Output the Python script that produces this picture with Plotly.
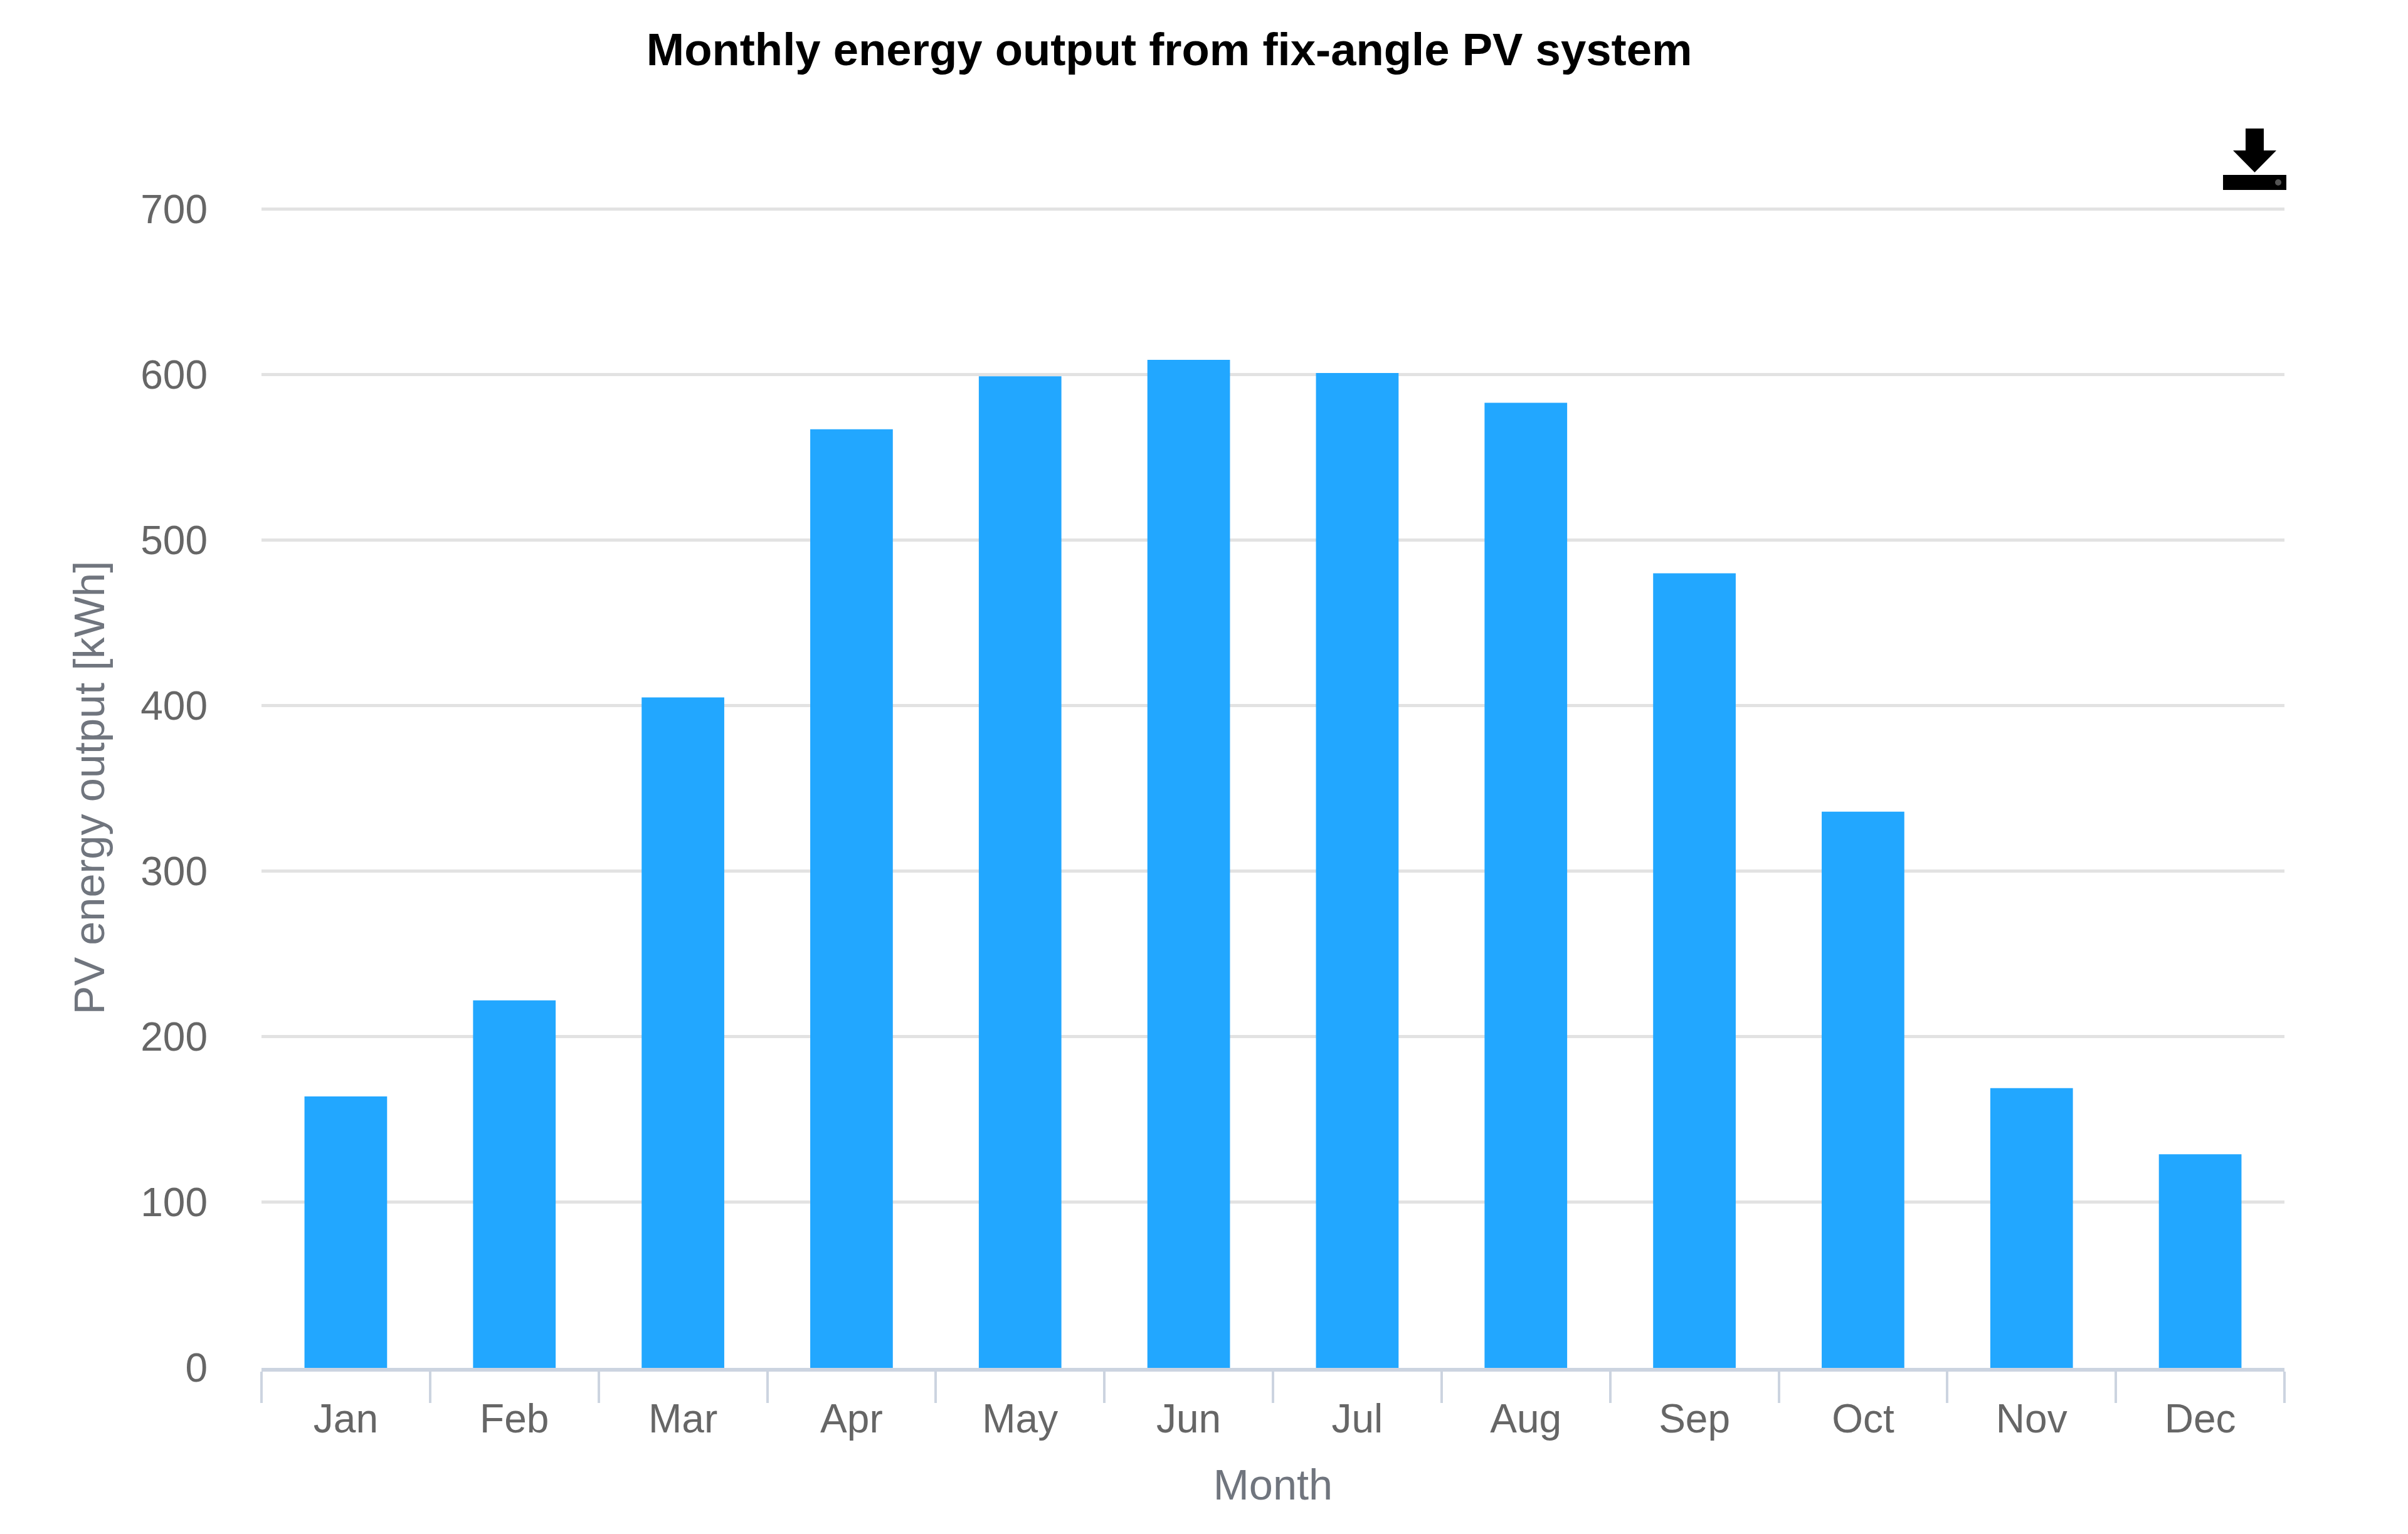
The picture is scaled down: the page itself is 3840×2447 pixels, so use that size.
import plotly.graph_objects as go

months = ["Jan","Feb","Mar","Apr","May","Jun","Jul","Aug","Sep","Oct","Nov","Dec"]
energy = [164, 222, 405, 567, 599, 609, 601, 583, 480, 336, 169, 129]
ticks = [0,100,200,300,400,500,600,700]

W, H = 3840, 2447
L, R, T, B = 408.5, 205, 323, 272.5

def px(x):
    return (x - 8 - L) / (W - L - R)
def py(y):
    return 1 - (y - 8 - T) / (H - T - B)

def poly(points):
    return "M " + " L ".join(f"{px(a):.5f},{py(b):.5f}" for a, b in points) + " Z"

arrow = [(3581,205),(3610,205),(3610,240),(3630,240),(3595.5,275),(3561,240),(3581,240)]
tray = [(3545,279),(3646,279),(3646,303),(3545,303)]

fig = go.Figure(go.Bar(x=months, y=energy, marker=dict(color="#22a7ff", line_width=0), width=0.49))
fig.update_layout(
    width=W, height=H, paper_bgcolor="white", plot_bgcolor="white", showlegend=False,
    margin=dict(l=L, r=R, t=T, b=B),
    font=dict(family="Liberation Sans", color="#666666", size=64),
    title=dict(text="<b>Monthly energy output from fix-angle PV system</b>", x=0.4835, xanchor="center", y=0.9815, yanchor="top",
               font=dict(size=72.5, color="#000000")),
    shapes=[
        dict(type="path", xref="paper", yref="paper", path=poly(arrow), fillcolor="#000000", line_width=0),
        dict(type="path", xref="paper", yref="paper", path=poly(tray), fillcolor="#000000", line_width=0),
        dict(type="circle", xref="paper", yref="paper", x0=px(3628), x1=px(3638), y0=py(296), y1=py(286), fillcolor="#555555", line_width=0),
    ],
)
fig.update_xaxes(title=dict(text="Month", standoff=48, font=dict(size=68.5, color="#70757e")),
                 showline=True, linecolor="#ccd4e0", linewidth=6,
                 ticks="outside", tickson="boundaries", ticklen=50, tickwidth=4, tickcolor="#ccd4e0",
                 tickfont=dict(size=64, color="#666666"), ticklabelstandoff=20)
fig.update_yaxes(title=dict(text="PV energy output [kWh]", standoff=35, font=dict(size=68.5, color="#70757e")),
                 range=[0,701], tickvals=ticks, gridcolor="#e2e2e2", gridwidth=5,
                 zeroline=False, tickfont=dict(size=64, color="#666666"), ticks="", ticklabelstandoff=85)
fig.write_html("out.html")
